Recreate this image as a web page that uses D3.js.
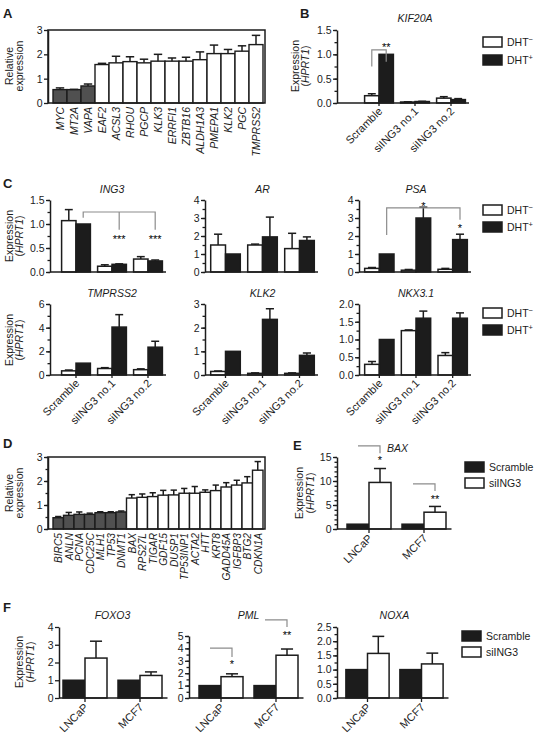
<!DOCTYPE html>
<html><head><meta charset="utf-8">
<script src="https://cdn.jsdelivr.net/npm/d3@7"></script>
<style>
body{margin:0;background:#fff;}
svg{display:block;font-family:"Liberation Sans",Arial,Helvetica,sans-serif;}
</style></head><body>
<script>
// ---------------- DATA ----------------
// Panel A: androgen-regulated genes (relative expression)
const aGenes = ["MYC","MT2A","VAPA","EAF2","ACSL3","RHOU","PGCP","KLK3","ERRFI1","ZBTB16","ALDH1A3","PMEPA1","KLK2","PGC","TMPRSS2"];
const aValues = [0.55,0.55,0.70,1.58,1.65,1.70,1.65,1.72,1.72,1.72,1.78,2.03,2.03,2.13,2.40];
const aSD     = [0.07,0.01,0.08,0.05,0.27,0.20,0.15,0.28,0.13,0.16,0.32,0.35,0.17,0.22,0.38];
const aRepressed = ["MYC","MT2A","VAPA"];
const aTicks = [0,1,2,3];

// Panel D: p53 related genes
const dGenes = ["BIRC5","ANLN","PCNA","CDC25C","MLH1","TP53","DNMT1","BAX","RPS27L","TIGAR","GDF15","DUSP1","TP53INP1","ACTA2","HTT","KRT8","GADD45A","IGFBP3","BTG2","CDKN1A"];
const dValues = [0.47,0.57,0.61,0.61,0.68,0.68,0.71,1.29,1.32,1.35,1.41,1.42,1.49,1.49,1.53,1.60,1.75,1.83,1.92,2.45];
const dSD     = [0.05,0.12,0.10,0.05,0.04,0.04,0.04,0.14,0.14,0.16,0.20,0.20,0.20,0.28,0.10,0.23,0.18,0.20,0.26,0.36];
const dRepressed = ["BIRC5","ANLN","PCNA","CDC25C","MLH1","TP53","DNMT1"];
const dTicks = [0,1,2,3];

// Panels B, C: siRNA groups, DHT- / DHT+
const sirnaGroups = ["Scramble","siING3 no.1","siING3 no.2"];
const kif20aMinus = [0.15,0.02,0.10], kif20aMinusSD = [0.04,0.005,0.03];
const kif20aPlus  = [1.00,0.03,0.07], kif20aPlusSD  = [0,0.005,0.02];
const ing3Minus = [1.07,0.12,0.27], ing3MinusSD = [0.23,0.03,0.05];
const ing3Plus  = [1.00,0.16,0.23], ing3PlusSD  = [0,0.01,0.02];
const arMinus = [1.50,1.50,1.30], arMinusSD = [0.60,0.05,0.85];
const arPlus  = [1.00,1.95,1.75], arPlusSD  = [0,1.10,0.20];
const psaMinus = [0.20,0.10,0.15], psaMinusSD = [0.05,0.04,0.05];
const psaPlus  = [1.00,3.00,1.80], psaPlusSD  = [0,0.60,0.30];
const tmprss2Minus = [0.35,0.55,0.45], tmprss2MinusSD = [0.07,0.07,0.07];
const tmprss2Plus  = [1.00,4.05,2.35], tmprss2PlusSD  = [0,1.05,0.50];
const klk2Minus = [0.15,0.07,0.07], klk2MinusSD = [0.02,0.02,0.02];
const klk2Plus  = [1.00,2.35,0.83], klk2PlusSD  = [0,0.45,0.10];
const nkx31Minus = [0.30,1.25,0.55], nkx31MinusSD = [0.08,0.02,0.08];
const nkx31Plus  = [1.00,1.60,1.60], nkx31PlusSD  = [0,0.20,0.15];

// Panels E, F: cell lines, Scramble / siING3
const cellLines = ["LNCaP","MCF7"];
const baxScr = [1,1], baxScrSD = [0,0], baxSi = [9.7,3.5], baxSiSD = [2.9,1.2];
const foxo3Scr = [1,1], foxo3ScrSD = [0,0], foxo3Si = [2.25,1.27], foxo3SiSD = [0.95,0.20];
const pmlScr = [1,1], pmlScrSD = [0,0], pmlSi = [1.72,3.45], pmlSiSD = [0.23,0.50];
const noxaScr = [1,1], noxaScrSD = [0,0], noxaSi = [1.57,1.20], noxaSiSD = [0.60,0.38];

// tick label arrays
const ticks15h = [0,0.5,1,1.5];
const ticks4 = [0,1,2,3,4];
const ticks6 = [0,2,4,6];
const ticks3 = [0,1,2,3];
const ticks2h = [0,0.5,1,1.5,2];
const ticks15 = [0,5,10,15];
const ticks5 = [0,1,2,3,4,5];
const ticks25h = [0,0.5,1,1.5,2,2.5];

// ---------------- DRAWING ----------------
const INK = "#1c1c1c", GREY = "#505050", BR = "#8c8c8c";
const svg = d3.select("body").append("svg").attr("width",537).attr("height",745);
const minorOf = (max, step) => d3.range(0, max + 1e-9, step);

function styleAxis(a){
  a.attr("font-family", null).attr("font-size", null);
  a.select(".domain").attr("stroke", INK).attr("stroke-width", 1.5);
  a.selectAll(".tick line").attr("stroke", INK).attr("stroke-width", 1.3);
  a.selectAll(".tick text").attr("fill", INK).attr("font-size", 10.5);
}
function letter(t, x, y){
  svg.append("text").attr("x",x).attr("y",y).attr("font-size",13).attr("font-weight","bold").attr("fill",INK).text(t);
}
function yLabel(lines, xs, cy){
  lines.forEach((ln, i) => {
    const t = svg.append("text").attr("transform", `translate(${xs[i]},${cy}) rotate(-90)`)
      .attr("text-anchor","middle").attr("font-size",10.5).attr("fill",INK);
    ln.forEach(p => t.append("tspan").attr("font-style", p.i ? "italic" : null).text(p.t));
  });
}
const exprLabel = [[{t:"Expression"}],[{t:"("},{t:"HPRT1",i:true},{t:")"}]];
const relLabel = [[{t:"Relative"}],[{t:"expression"}]];

function errorBars(g, data, cx, y, cap){
  const e = g.append("g").attr("stroke", INK).attr("stroke-width", 1.5);
  e.selectAll("line.v").data(data).join("line").attr("class","v")
    .attr("x1",cx).attr("x2",cx).attr("y1",d=>y(d.v)).attr("y2",d=>y(d.v+d.sd));
  e.selectAll("line.c").data(data).join("line").attr("class","c")
    .attr("x1",d=>cx(d)-cap/2).attr("x2",d=>cx(d)+cap/2)
    .attr("y1",d=>y(d.v+d.sd)).attr("y2",d=>y(d.v+d.sd));
}

function yAxis(g, y, axisX, ticks, minor, fmt){
  if (minor) g.append("g").attr("transform",`translate(${axisX},0)`)
      .call(d3.axisLeft(y).tickValues(minor).tickSize(2.5).tickFormat(""))
      .call(styleAxis).call(a=>a.select(".domain").remove());
  g.append("g").attr("transform",`translate(${axisX},0)`)
    .call(d3.axisLeft(y).tickValues(ticks).tickSize(4).tickSizeOuter(0).tickPadding(1.5).tickFormat(fmt))
    .call(styleAxis);
}

function boxPanel(o){
  const g = svg.append("g");
  const x = d3.scaleBand().domain(o.genes).range(o.range);
  const y = d3.scaleLinear().domain([0,3]).range([o.yBottom, o.yTop]);
  yAxis(g, y, o.box[0], o.ticks, o.minor, d3.format("d"));
  const data = o.genes.map((gn,i)=>({gn, v:o.values[i], sd:o.sd[i]}));
  g.append("g").selectAll("rect").data(data).join("rect")
    .attr("x",d=>x(d.gn)).attr("width",x.bandwidth())
    .attr("y",d=>y(d.v)).attr("height",d=>y(0)-y(d.v))
    .attr("fill",d=>o.repressed.includes(d.gn)?GREY:"#fff")
    .attr("stroke",INK).attr("stroke-width",1.4);
  errorBars(g, data, d=>x(d.gn)+x.bandwidth()/2, y, x.bandwidth()*0.6);
  g.append("rect").attr("x",o.box[0]).attr("y",y(3)).attr("width",o.box[1]-o.box[0]).attr("height",y(0)-y(3))
    .attr("fill","none").attr("stroke",INK).attr("stroke-width",1.5);
  const xa = g.append("g").attr("transform",`translate(0,${y(0)})`).call(d3.axisBottom(x).tickSize(0));
  styleAxis(xa);
  xa.select(".domain").remove();
  xa.selectAll("text").attr("transform","rotate(-90)").attr("text-anchor","end")
    .attr("dy",0).attr("x",-4).attr("y",3.8).attr("font-style","italic").attr("font-size",o.labelSize);
}

function grouped(o){
  const g = svg.append("g");
  const x0 = d3.scaleBand().domain(o.groups).range(o.range).paddingInner(0.2).paddingOuter(0.1);
  const x1 = d3.scaleBand().domain(o.series.map((s,i)=>i)).range([0,x0.bandwidth()]);
  const y = d3.scaleLinear().domain(o.yDomain).range([o.yBottom,o.yTop]);
  yAxis(g, y, o.axisX, o.ticks, o.minor, o.fmt);
  o.series.forEach((s,i)=>{
    const data = o.groups.map((gr,j)=>({gr, v:s.values[j], sd:s.sd[j]}));
    g.append("g").selectAll("rect").data(data).join("rect")
      .attr("x",d=>x0(d.gr)+x1(i)).attr("width",x1.bandwidth())
      .attr("y",d=>y(d.v)).attr("height",d=>y(0)-y(d.v))
      .attr("fill",s.fill).attr("stroke",INK).attr("stroke-width",1.5);
    errorBars(g, data.filter(d=>d.sd>0), d=>x0(d.gr)+x1(i)+x1.bandwidth()/2, y, x1.bandwidth()*0.55);
  });
  const xa = g.append("g").attr("transform",`translate(0,${o.yBottom})`)
    .call(d3.axisBottom(x0).tickSize(o.xTick).tickSizeOuter(0).tickPadding(0).tickFormat(o.xLabels ? null : ""));
  styleAxis(xa);
  xa.select(".domain").attr("d",`M${o.axisX},0H${o.range[1]}`);
  if (o.xLabels){
    const a = 4, b = o.xTick + 6;
    xa.selectAll("text").attr("transform","rotate(-45)").attr("text-anchor","end").attr("dy",0)
      .attr("x",(a-b)*Math.SQRT1_2).attr("y",(a+b)*Math.SQRT1_2).attr("font-size",11);
  }
  if (o.title) g.append("text").attr("x", o.titleX ?? (o.range[0]+o.range[1])/2).attr("y",o.titleY)
      .attr("text-anchor",o.titleAnchor || "middle").attr("font-style","italic").attr("font-size",10.5)
      .attr("fill",INK).text(o.title);
  return {g, y, cx:(gi,si)=>x0(o.groups[gi])+x1(si)+x1.bandwidth()/2};
}

function bracket(P, pts){
  P.g.append("path").attr("d", d3.line()(pts.map(([gi,si,v])=>[P.cx(gi,si), P.y(v)])))
    .attr("fill","none").attr("stroke",BR).attr("stroke-width",1.2);
}
function stars(P, gi, si, v, s){
  P.g.append("text").attr("x",P.cx(gi,si)).attr("y",P.y(v)+6).attr("text-anchor","middle")
    .attr("font-size",11).attr("fill","#000").text(s);
}
function legend(x, y0, dy, items){
  items.forEach((it,i)=>{
    svg.append("rect").attr("x",x).attr("y",y0+i*dy).attr("width",19).attr("height",10)
      .attr("fill",it.fill).attr("stroke",INK).attr("stroke-width",1.5);
    const t = svg.append("text").attr("x",x+24).attr("y",y0+i*dy+9).attr("font-size",10.5).attr("fill",INK).text(it.label);
    if (it.sup) t.append("tspan").attr("dy",-4).attr("font-size",7.5).text(it.sup);
  });
}
const dhtItems = [{label:"DHT",sup:"\u2212",fill:"#fff"},{label:"DHT",sup:"+",fill:INK}];
const scrItems = [{label:"Scramble",fill:INK},{label:"siING3",fill:"#fff"}];
const dhtSeries = (m,msd,p,psd)=>[{values:m,sd:msd,fill:"#fff"},{values:p,sd:psd,fill:INK}];
const scrSeries = (s,ssd,k,ksd)=>[{values:s,sd:ssd,fill:INK},{values:k,sd:ksd,fill:"#fff"}];
const f1 = d3.format(".1f"), f0 = d3.format("d");

// ---- Panel A ----
letter("A", 3, 18);
yLabel(relLabel, [12.5, 22.5], 66);
boxPanel({genes:aGenes, values:aValues, sd:aSD, repressed:aRepressed, range:[53,263], box:[48,265], yTop:30, yBottom:103, ticks:aTicks, minor:null, labelSize:10.5});

// ---- Panel B ----
letter("B", 300, 18);
yLabel(exprLabel, [298.5, 309], 66);
const PB = grouped({groups:sirnaGroups, series:dhtSeries(kif20aMinus,kif20aMinusSD,kif20aPlus,kif20aPlusSD),
  range:[361,469], axisX:337, yTop:30, yBottom:103, yDomain:[0,1.5], ticks:ticks15h, minor:minorOf(1.5,0.25), fmt:f1,
  xTick:3, xLabels:true, title:"KIF20A", titleY:22});
bracket(PB, [[0,0,0.75],[0,0,1.09],[0,1,1.09],[0,1,0.85]]);
stars(PB, 0, 1, 1.2, "**");
legend(483, 37, 18, dhtItems);

// ---- Panel C ----
letter("C", 3, 188);
yLabel(exprLabel, [12.5, 23], 236);
const PI = grouped({groups:sirnaGroups, series:dhtSeries(ing3Minus,ing3MinusSD,ing3Plus,ing3PlusSD),
  range:[58,166], axisX:50, yTop:200, yBottom:272, yDomain:[0,1.5], ticks:ticks15h, minor:minorOf(1.5,0.25), fmt:f1,
  xTick:0, xLabels:false, title:"ING3", titleY:193});
bracket(PI, [[0,1,1.13],[0,1,1.25],[2,1,1.25],[2,1,0.88]]);
bracket(PI, [[1,1,1.25],[1,1,0.88]]);
stars(PI, 1, 1, 0.73, "***"); stars(PI, 2, 1, 0.73, "***");
grouped({groups:sirnaGroups, series:dhtSeries(arMinus,arMinusSD,arPlus,arPlusSD),
  range:[207,318], axisX:205, yTop:200, yBottom:272, yDomain:[0,4], ticks:ticks4, minor:minorOf(4,0.5), fmt:f0,
  xTick:0, xLabels:false, title:"AR", titleY:193});
const PP = grouped({groups:sirnaGroups, series:dhtSeries(psaMinus,psaMinusSD,psaPlus,psaPlusSD),
  range:[361,471], axisX:359, yTop:200, yBottom:272, yDomain:[0,4], ticks:ticks4, minor:minorOf(4,0.5), fmt:f0,
  xTick:0, xLabels:false, title:"PSA", titleY:193});
bracket(PP, [[0,1,2.06],[0,1,3.56],[2,1,3.56],[2,1,2.9]]);
stars(PP, 1, 1, 3.8, "*"); stars(PP, 2, 1, 2.55, "*");
legend(483, 205, 17, dhtItems);

yLabel(exprLabel, [12.5, 23], 340);
grouped({groups:sirnaGroups, series:dhtSeries(tmprss2Minus,tmprss2MinusSD,tmprss2Plus,tmprss2PlusSD),
  range:[58,166], axisX:50, yTop:304, yBottom:375, yDomain:[0,6], ticks:ticks6, minor:minorOf(6,1), fmt:f0,
  xTick:3, xLabels:true, title:"TMPRSS2", titleY:297});
grouped({groups:sirnaGroups, series:dhtSeries(klk2Minus,klk2MinusSD,klk2Plus,klk2PlusSD),
  range:[207,318], axisX:205, yTop:304, yBottom:375, yDomain:[0,3], ticks:ticks3, minor:minorOf(3,0.5), fmt:f0,
  xTick:3, xLabels:true, title:"KLK2", titleY:297});
grouped({groups:sirnaGroups, series:dhtSeries(nkx31Minus,nkx31MinusSD,nkx31Plus,nkx31PlusSD),
  range:[361,471], axisX:359, yTop:304, yBottom:375, yDomain:[0,2], ticks:ticks2h, minor:minorOf(2,0.25), fmt:f1,
  xTick:3, xLabels:true, title:"NKX3.1", titleY:297});
legend(483, 308, 17, dhtItems);

// ---- Panel D ----
letter("D", 3, 448);
yLabel(relLabel, [12.5, 22.5], 493);
boxPanel({genes:dGenes, values:dValues, sd:dSD, repressed:dRepressed, range:[53,263], box:[48,265], yTop:457, yBottom:529, ticks:dTicks, minor:minorOf(3,0.5), labelSize:10.2});

// ---- Panel E ----
letter("E", 293, 450);
yLabel(exprLabel, [303, 314], 493);
const PE = grouped({groups:cellLines, series:scrSeries(baxScr,baxScrSD,baxSi,baxSiSD),
  range:[341.5,451.5], axisX:337, yTop:457, yBottom:529, yDomain:[0,15], ticks:ticks15, minor:minorOf(15,1), fmt:f0,
  xTick:4, xLabels:true, title:"BAX", titleX:387, titleAnchor:"start", titleY:452});
bracket(PE, [[0,0,17.3],[0,1,17.3],[0,1,15.8]]);
stars(PE, 0, 1, 14.8, "*");
bracket(PE, [[1,0,9.4],[1,1,9.4],[1,1,7.9]]);
stars(PE, 1, 1, 6.7, "**");
legend(465, 462, 16, scrItems);

// ---- Panel F ----
letter("F", 3, 612);
yLabel(exprLabel, [22.5, 33.5], 662);
grouped({groups:cellLines, series:scrSeries(foxo3Scr,foxo3ScrSD,foxo3Si,foxo3SiSD),
  range:[57.5,167.5], axisX:59, yTop:627, yBottom:698, yDomain:[0,4], ticks:ticks4, minor:null, fmt:f0,
  xTick:4, xLabels:true, title:"FOXO3", titleY:619});
const PM = grouped({groups:cellLines, series:scrSeries(pmlScr,pmlScrSD,pmlSi,pmlSiSD),
  range:[193.5,303.5], axisX:189, yTop:636, yBottom:698, yDomain:[0,5], ticks:ticks5, minor:minorOf(5,0.5), fmt:f0,
  xTick:4, xLabels:true, title:"PML", titleY:619});
bracket(PM, [[0,0,4.03],[0,1,4.03],[0,1,3.3]]);
stars(PM, 0, 1, 2.9, "*");
bracket(PM, [[1,0,6.3],[1,1,6.3],[1,1,5.73]]);
stars(PM, 1, 1, 5.24, "**");
grouped({groups:cellLines, series:scrSeries(noxaScr,noxaScrSD,noxaSi,noxaSiSD),
  range:[340.5,448.5], axisX:337, yTop:627, yBottom:698, yDomain:[0,2.5], ticks:ticks25h, minor:minorOf(2.5,0.25), fmt:f1,
  xTick:4, xLabels:true, title:"NOXA", titleY:619});
legend(462, 631, 16, scrItems);
</script></body></html>
